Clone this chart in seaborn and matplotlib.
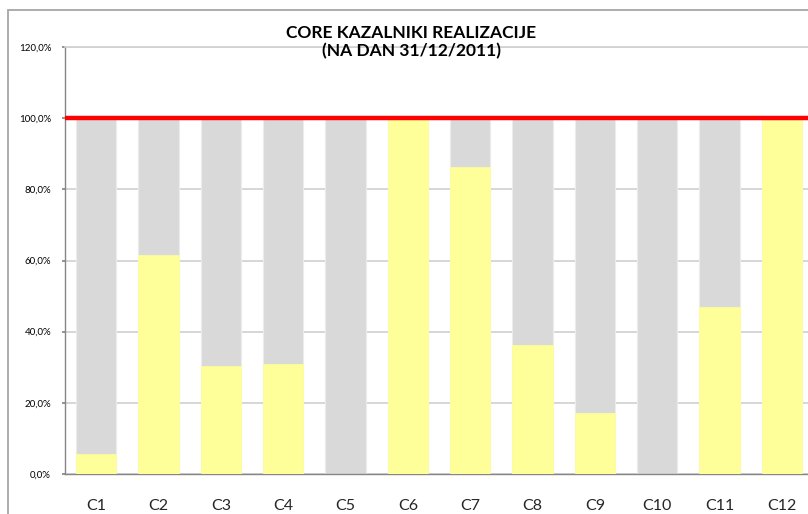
import matplotlib
matplotlib.use("Agg")
import matplotlib.pyplot as plt
import seaborn as sns
import pandas as pd
from matplotlib.ticker import FuncFormatter
from matplotlib.patches import Rectangle

categories = ["C1", "C2", "C3", "C4", "C5", "C6", "C7", "C8", "C9", "C10", "C11", "C12"]
target = [100, 100, 100, 100, 100, 100, 100, 100, 100, 100, 100, 100]
realizacija = [5.6, 61.6, 30.4, 31.0, 0.0, 100.0, 86.3, 36.2, 17.1, 0.0, 46.9, 99.5]
yticks = [0, 20, 40, 60, 80, 100, 120]
title_lines = ["CORE KAZALNIKI REALIZACIJE", "(NA DAN 31/12/2011)"]

df = pd.DataFrame({"cat": categories, "target": target, "real": realizacija})

sns.set_theme(style="white")
plt.rcParams["font.family"] = ["Lato", "DejaVu Sans"]

W, H = 808, 514
fig = plt.figure(figsize=(W / 100, H / 100), dpi=100)
fig.patch.set_facecolor("white")

# outer chart border
fig.patches.append(Rectangle((8 / W, -0.1), 1.2, (H - 10) / H + 0.1, transform=fig.transFigure,
                             fill=False, edgecolor="#a6a6a6", linewidth=1.3, zorder=0))

ax_left, ax_right, ax_top, ax_bottom = 65, 813, 47, 474
ax = fig.add_axes([ax_left / W, (H - ax_bottom) / H, (ax_right - ax_left) / W, (ax_bottom - ax_top) / H])

bw = 40 / 62.3
sns.barplot(data=df, x="cat", y="target", color="#d9d9d9", saturation=1, width=bw, ax=ax,
            edgecolor="#ececec", linewidth=0.8, zorder=2)
sns.barplot(data=df, x="cat", y="real", color="#ffff99", saturation=1, width=bw, ax=ax,
            edgecolor="#ffff99", linewidth=0.5, zorder=3)

ax.axhline(100, color="#ff0000", linewidth=3.2, zorder=5)

ax.set_ylim(0, 120)
ax.set_xlim(-0.5, len(categories) - 0.5)
ax.set_yticks(yticks)
ax.yaxis.set_major_formatter(FuncFormatter(lambda v, p: f"{v:.1f}%".replace(".", ",")))
ax.grid(axis="y", color="#d0d0d0", linewidth=1.2, zorder=0)
ax.set_axisbelow(True)
ax.set_xlabel("")
ax.set_ylabel("")

ax.spines["right"].set_visible(False)
ax.spines["top"].set_color("#d0d0d0")
ax.spines["top"].set_linewidth(1.2)
ax.spines["left"].set_color("#868686")
ax.spines["bottom"].set_color("#868686")
ax.spines["left"].set_linewidth(1.0)
ax.spines["bottom"].set_linewidth(1.0)

ax.tick_params(axis="y", labelsize=7, length=2, color="#868686", pad=8, left=True)
ax.tick_params(axis="x", labelsize=11.5, length=0, pad=18)
for lab in ax.get_yticklabels():
    lab.set_color("#000000")

fig.text(411 / W, 1 - 33 / H, title_lines[0], ha="center", va="center", fontsize=12.5,
         fontweight="bold", color="black")
fig.text(411 / W, 1 - 51 / H, title_lines[1], ha="center", va="center", fontsize=12.5,
         fontweight="bold", color="black")

fig.savefig("out.png", dpi=100, facecolor="white")
